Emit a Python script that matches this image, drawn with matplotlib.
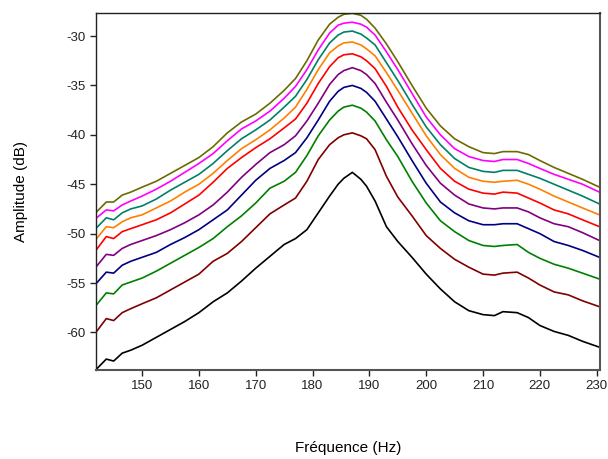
import matplotlib
matplotlib.use("Agg")
import matplotlib.pyplot as plt

plt.rcParams['font.family'] = ['Liberation Sans', 'DejaVu Sans']

freq = [142, 143.7, 145, 146.5, 148, 150, 152.5, 155, 157.5, 160, 162.5, 165, 167.5, 170,
        172.5, 175, 177, 179, 181, 183, 184.5, 185.5, 187, 188.5, 189.5, 191, 193, 195,
        197.5, 200, 202.5, 205, 207.5, 210, 212, 213.5, 216, 218, 220, 222.5, 225, 227.5, 230.5]

black   = [-63.7, -62.7, -62.9, -62.1, -61.8, -61.3, -60.5, -59.7, -58.9, -58.0, -56.9, -56.0, -54.8, -53.5,
           -52.3, -51.1, -50.5, -49.6, -47.9, -46.2, -45.0, -44.4, -43.8, -44.5, -45.2, -46.7, -49.3, -50.8,
           -52.4, -54.1, -55.6, -56.9, -57.8, -58.2, -58.3, -57.9, -58.0, -58.5, -59.3, -59.9, -60.3, -60.9, -61.5]
maroon  = [-59.9, -58.6, -58.8, -58.0, -57.6, -57.1, -56.5, -55.7, -54.9, -54.1, -52.8, -52.0, -50.8, -49.4,
           -48.0, -47.1, -46.4, -44.7, -42.5, -41.0, -40.3, -40.0, -39.8, -40.1, -40.4, -41.5, -44.2, -46.3,
           -48.2, -50.2, -51.5, -52.6, -53.4, -54.1, -54.2, -54.0, -53.9, -54.5, -55.2, -55.9, -56.2, -56.8, -57.4]
green   = [-57.2, -56.0, -56.1, -55.2, -54.9, -54.5, -53.8, -53.0, -52.2, -51.4, -50.5, -49.3, -48.2, -46.9,
           -45.4, -44.7, -43.8, -42.1, -40.1, -38.5, -37.6, -37.2, -37.0, -37.3, -37.7, -38.6, -40.5, -42.2,
           -44.7, -46.9, -48.7, -49.8, -50.7, -51.2, -51.3, -51.2, -51.1, -51.9, -52.5, -53.1, -53.5, -54.0, -54.6]
navy    = [-55.0, -53.9, -54.0, -53.2, -52.8, -52.4, -51.9, -51.1, -50.4, -49.6, -48.6, -47.6, -46.1, -44.6,
           -43.4, -42.6, -41.8, -40.3, -38.5, -36.6, -35.6, -35.2, -35.0, -35.3, -35.7, -36.6, -38.4, -40.2,
           -42.6, -44.9, -46.8, -47.9, -48.7, -49.1, -49.1, -49.0, -49.0, -49.5, -50.0, -50.8, -51.2, -51.7, -52.4]
purple  = [-53.3, -52.1, -52.2, -51.5, -51.1, -50.7, -50.2, -49.6, -48.9, -48.1, -47.1, -45.8, -44.3, -43.0,
           -41.8, -41.0, -40.1, -38.6, -36.8, -34.9, -33.9, -33.5, -33.2, -33.5, -33.9, -34.8, -36.7, -38.5,
           -40.9, -43.1, -44.9, -46.1, -47.0, -47.4, -47.5, -47.4, -47.4, -47.8, -48.4, -49.0, -49.3, -49.9, -50.7]
red     = [-51.6, -50.3, -50.5, -49.8, -49.5, -49.1, -48.6, -47.9, -47.0, -46.1, -44.8, -43.4, -42.3, -41.3,
           -40.4, -39.3, -38.4, -36.8, -34.8, -33.1, -32.2, -31.9, -31.8, -32.1, -32.5, -33.3, -35.1, -37.2,
           -39.5, -41.5, -43.4, -44.7, -45.5, -45.9, -46.0, -45.8, -45.9, -46.4, -46.9, -47.6, -48.0, -48.6, -49.3]
orange  = [-50.5, -49.3, -49.4, -48.8, -48.4, -48.1, -47.4, -46.7, -45.8, -45.0, -43.9, -42.6, -41.4, -40.5,
           -39.5, -38.3, -37.2, -35.4, -33.4, -31.7, -31.0, -30.7, -30.6, -30.9, -31.3, -32.0, -33.7, -35.5,
           -37.8, -40.1, -42.0, -43.4, -44.3, -44.7, -44.8, -44.7, -44.6, -45.0, -45.5, -46.2, -46.8, -47.4, -48.1]
teal    = [-49.4, -48.4, -48.6, -47.9, -47.5, -47.2, -46.5, -45.6, -44.8, -44.0, -42.9, -41.6, -40.4, -39.5,
           -38.5, -37.2, -36.1, -34.4, -32.4, -30.7, -29.9, -29.6, -29.5, -29.8, -30.2, -30.9, -32.7, -34.5,
           -36.9, -39.2, -41.0, -42.4, -43.3, -43.7, -43.8, -43.6, -43.6, -44.0, -44.4, -45.0, -45.6, -46.2, -47.0]
magenta = [-48.4, -47.6, -47.7, -47.1, -46.7, -46.2, -45.5, -44.7, -43.8, -42.9, -41.9, -40.6, -39.4, -38.6,
           -37.6, -36.3, -35.1, -33.4, -31.4, -29.7, -28.9, -28.7, -28.6, -28.8, -29.1, -29.9, -31.6, -33.4,
           -35.8, -38.2, -40.0, -41.4, -42.2, -42.6, -42.7, -42.5, -42.5, -42.9, -43.4, -44.0, -44.5, -45.0, -45.8]
olive   = [-47.8, -46.8, -46.8, -46.1, -45.8, -45.3, -44.7, -43.9, -43.1, -42.3, -41.2, -39.8, -38.7, -37.9,
           -36.8, -35.5, -34.3, -32.5, -30.4, -28.8, -28.1, -27.8, -27.7, -27.9, -28.3, -29.2, -30.8, -32.6,
           -35.0, -37.3, -39.1, -40.4, -41.2, -41.8, -41.9, -41.7, -41.7, -42.0, -42.6, -43.3, -43.9, -44.5, -45.3]

series = [
    (black, '#000000'),
    (maroon, '#800000'),
    (green, '#008000'),
    (navy, '#000080'),
    (purple, '#800080'),
    (red, '#FF0000'),
    (orange, '#FF8000'),
    (teal, '#008066'),
    (magenta, '#FF00FF'),
    (olive, '#6B6B00'),
]

xticks = [150, 160, 170, 180, 190, 200, 210, 220, 230]
yticks = [-30, -35, -40, -45, -50, -55, -60]

fig = plt.figure(figsize=(6.08, 4.59), dpi=100)
ax = fig.add_axes([0.158, 0.194, 0.829, 0.777])

for vals, col in series:
    ax.plot(freq, vals, color=col, lw=1.2, solid_joinstyle='round', solid_capstyle='round')

ax.set_xlim(141.9, 230.6)
ax.set_ylim(-63.8, -27.7)
ax.set_xticks(xticks)
ax.set_yticks(yticks)
ax.set_xticklabels([str(t) for t in xticks])
ax.set_yticklabels([str(t) for t in yticks])
ax.tick_params(direction='out', length=4, width=1, labelsize=9.5, colors='#222222')
for s in ['top', 'left']:
    ax.spines[s].set_color('#222222')
    ax.spines[s].set_linewidth(1.0)
for s in ['right', 'bottom']:
    ax.spines[s].set_color('#555555')
    ax.spines[s].set_linewidth(1.5)

ax.set_xlabel('Fréquence (Hz)', fontsize=11, labelpad=35)
ax.set_ylabel('Amplitude (dB)', fontsize=11, labelpad=28)

fig.savefig('out.png', dpi=100)
